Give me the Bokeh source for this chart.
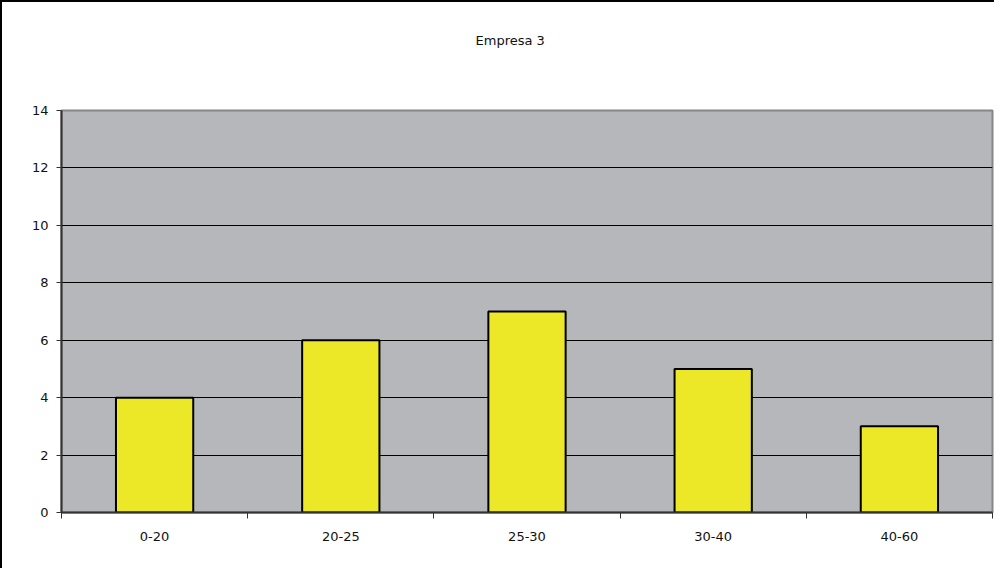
import numpy as np
from bokeh.plotting import figure
from bokeh.models import FixedTicker, Range1d, Title
from bokeh.embed import file_html
from bokeh.resources import INLINE

title_text = "Empresa 3"
categories = ["0-20", "20-25", "25-30", "30-40", "40-60"]
values = [4, 6, 7, 5, 3]
y_ticks = [0, 2, 4, 6, 8, 10, 12, 14]

FONT = "DejaVu Sans"
W, H = 994, 568
ML, MT, FW, FH = 59, 108, 929, 400

p = figure(width=W, height=H, output_backend="svg", toolbar_location=None,
           x_range=Range1d(0, len(categories)), y_range=Range1d(0, 14),
           min_border_left=ML, min_border_top=MT,
           min_border_right=W - 2 - ML - FW,
           min_border_bottom=H - 2 - MT - FH)
p.styles = {"border-left": "2px solid black", "border-top": "2px solid black",
            "box-sizing": "border-box"}

# real title (outer panel)
p.title.text = title_text
p.title.align = "left"
p.title.offset = 414
p.title.text_font = FONT
p.title.text_font_size = "13px"
p.title.text_font_style = "normal"
p.title.text_color = "#111111"
p.title.standoff = 0

# spacer panel nearest the frame
p.add_layout(Title(text=" ", text_font=FONT, text_font_size="13px",
                   standoff=46), "above")

p.background_fill_color = "#b6b7bb"
p.border_fill_color = "white"
p.outline_line_color = "#85868a"
p.outline_line_width = 2

xc = np.arange(len(categories)) + 0.5
p.vbar(x=xc, top=values, width=0.415, bottom=0,
       fill_color="#ece828", line_color="black", line_width=2)

# x axis
xa = p.xaxis[0]
xa.ticker = FixedTicker(ticks=list(xc), minor_ticks=list(range(len(categories) + 1)))
xa.major_label_overrides = {float(x): c for x, c in zip(xc, categories)}
xa.major_tick_line_color = None
xa.minor_tick_line_color = "#333333"
xa.minor_tick_out = 6
xa.minor_tick_in = 0
xa.axis_line_color = "#333333"
xa.axis_line_width = 2
xa.major_label_text_font = FONT
xa.major_label_text_font_size = "13px"
xa.major_label_text_color = "#111111"
xa.major_label_standoff = 13

ya = p.yaxis[0]
ya.ticker = FixedTicker(ticks=y_ticks)
ya.minor_tick_line_color = None
ya.major_tick_line_color = "#333333"
ya.major_tick_out = 5
ya.major_tick_in = 0
ya.axis_line_color = "#333333"
ya.axis_line_width = 2
ya.major_label_text_font = FONT
ya.major_label_text_font_size = "13px"
ya.major_label_text_color = "#111111"
ya.major_label_standoff = 8

p.xgrid.grid_line_color = None
p.ygrid.ticker = FixedTicker(ticks=y_ticks[1:-1])
p.ygrid.grid_line_color = "black"
p.ygrid.grid_line_width = 1

open("out.html", "w").write(file_html(p, INLINE))
